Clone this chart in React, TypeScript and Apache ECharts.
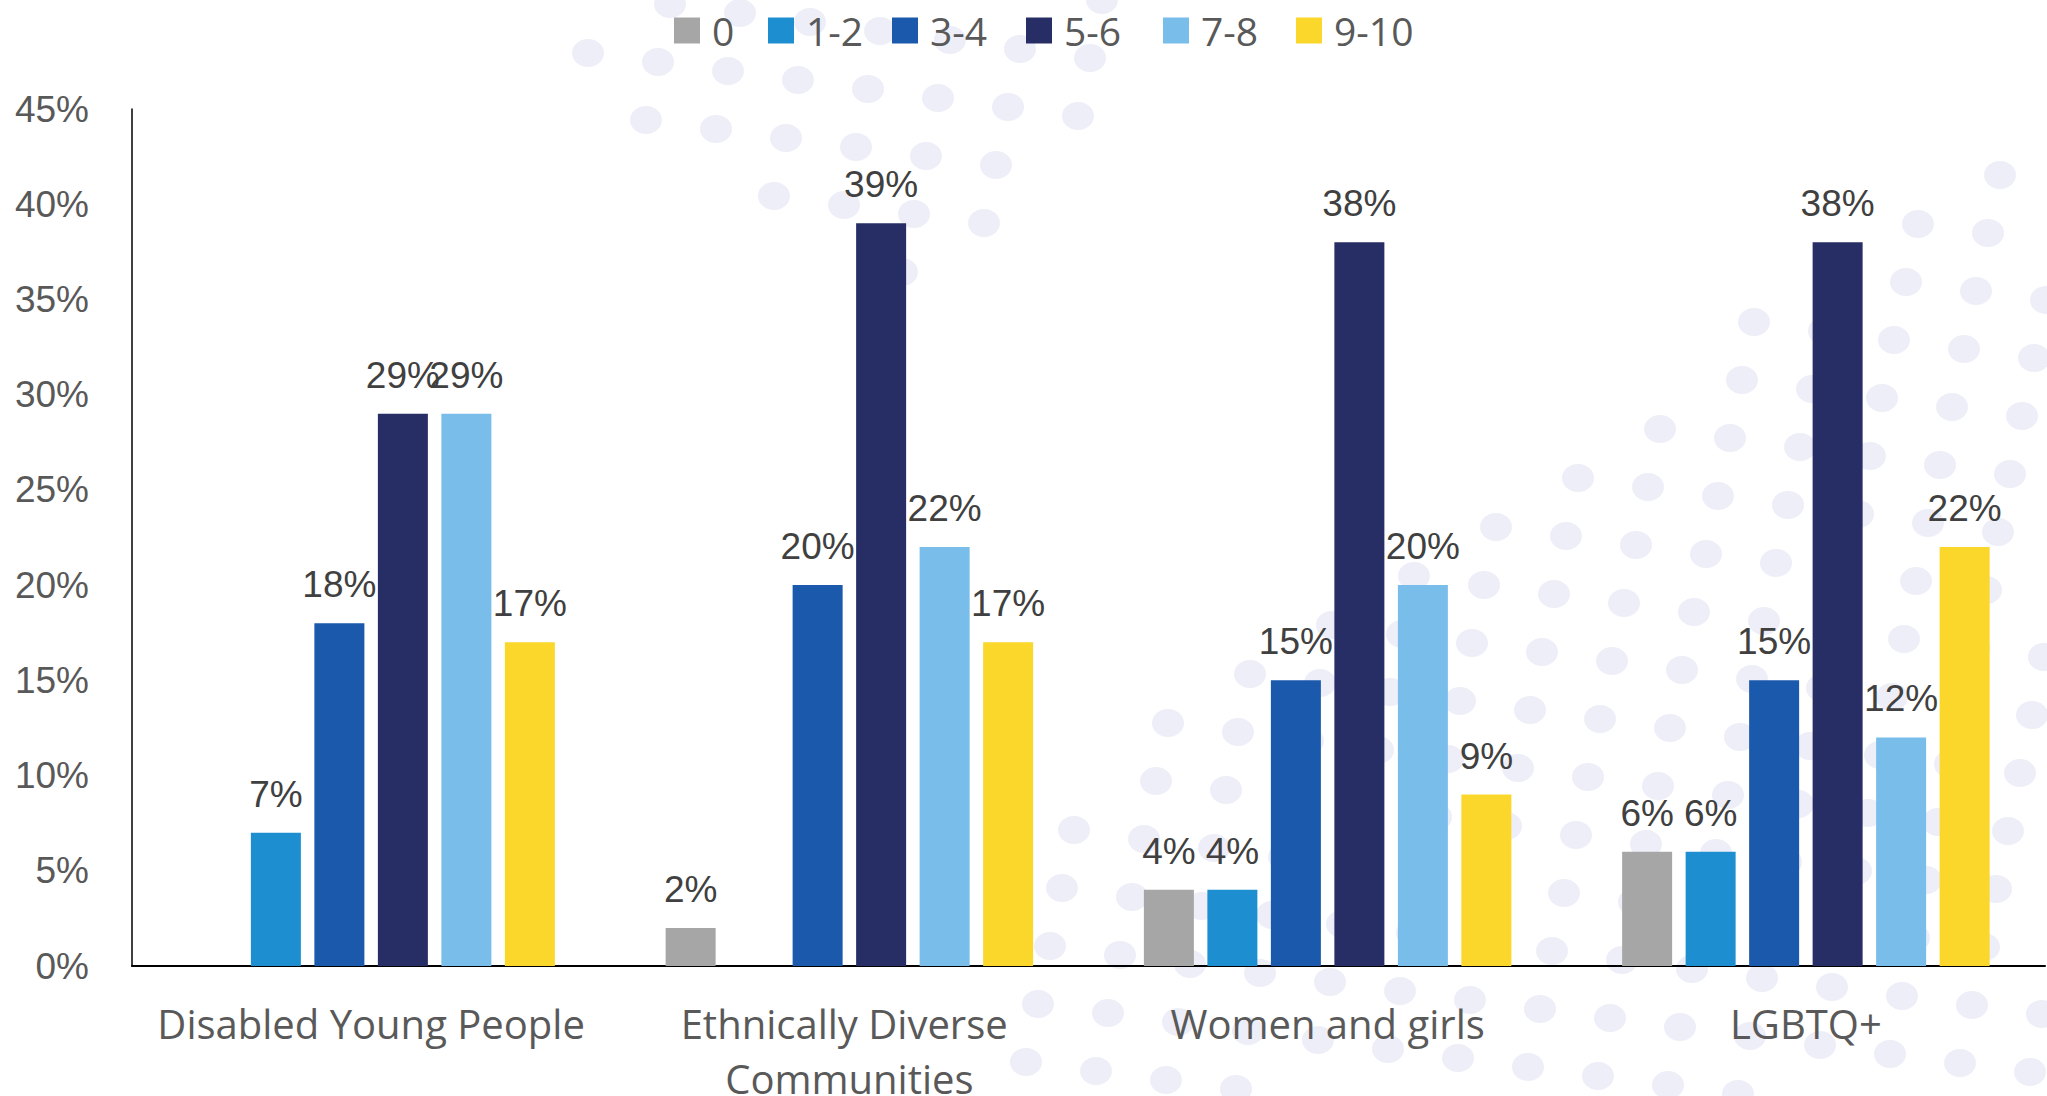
import React, { useEffect, useRef } from "react";
import * as echarts from "echarts";

const categories = ["Disabled Young People", "Ethnically Diverse Communities", "Women and girls", "LGBTQ+"];
const seriesNames = ["0", "1-2", "3-4", "5-6", "7-8", "9-10"];
const seriesColors = ["#A6A6A6", "#1D8FD0", "#1A59AB", "#262E65", "#79BDEB", "#FBD72C"];
const values0 = [null, 2, 4, 6];
const values12 = [7, null, 4, 6];
const values34 = [18, 20, 15, 15];
const values56 = [29, 39, 38, 38];
const values78 = [29, 22, 20, 12];
const values910 = [17, 17, 9, 22];
const allValues = [values0, values12, values34, values56, values78, values910];
const yTicks = { min: 0, max: 45, interval: 5 };

// legend item left positions (layout only)
const legendLefts = [674, 768, 892, 1026, 1163, 1296];

// decorative background dot regions (full-size pixel polygons)
const S = 2047 / 1568;
const dotRegions = [
  [[380, 0], [850, 0], [850, 70], [720, 230], [600, 170], [420, 60]],
  [[1450, 140], [1568, 120], [1568, 840], [760, 840], [760, 740], [850, 560], [1000, 480], [1150, 380], [1280, 300]],
].map((poly) => poly.map(([x, y]) => [x * S, y * S]));

function inside(px: number, py: number, poly: number[][]) {
  let c = false;
  for (let i = 0, j = poly.length - 1; i < poly.length; j = i++) {
    const [xi, yi] = poly[i];
    const [xj, yj] = poly[j];
    if ((yi > py) !== (yj > py) && px < ((xj - xi) * (py - yi)) / (yj - yi) + xi) c = !c;
  }
  return c;
}

function buildDots() {
  const out: any[] = [];
  const ox = 1918, oy = 224;
  for (let i = -40; i <= 40; i++) {
    for (let j = -30; j <= 30; j++) {
      const x = ox + i * 70 - j * 12;
      const y = oy + i * 9 + j * 58;
      if (x < -20 || x > 2070 || y < -20 || y > 1110) continue;
      if (!dotRegions.some((p) => inside(x, y, p))) continue;
      out.push({
        type: "ellipse",
        silent: true,
        z: -10,
        shape: { cx: x, cy: y, rx: 16, ry: 14 },
        style: { fill: "#EDEEF8" },
      });
    }
  }
  return out;
}

export default function App() {
  const ref = useRef<HTMLDivElement>(null);
  useEffect(() => {
    if (!ref.current) return;
    const chart = echarts.init(ref.current, undefined, { renderer: "svg" });
    chart.setOption({
      animation: false,
      backgroundColor: "#FFFFFF",
      graphic: { elements: buildDots() },
      legend: seriesNames.map((name, i) => ({
        data: [name],
        left: legendLefts[i],
        top: 11,
        padding: 0,
        itemWidth: 26,
        itemHeight: 26,
        icon: "rect",
        textStyle: {
          fontFamily: "Open Sans",
          fontSize: 39,
          color: "#595959",
          padding: [0, 0, 0, 7],
        },
      })),
      grid: {
        left: 132,
        right: 2,
        top: 109,
        bottom: 130,
        containLabel: false,
        outerBoundsMode: "none",
      },
      xAxis: {
        type: "category",
        data: categories,
        axisLine: { show: true, lineStyle: { color: "#000000", width: 2 } },
        axisTick: { show: false },
        axisLabel: {
          interval: 0,
          margin: 30,
          fontFamily: "Open Sans",
          fontSize: 40,
          color: "#595959",
          lineHeight: 55,
          width: 440,
          overflow: "break",
        },
      },
      yAxis: {
        type: "value",
        min: yTicks.min,
        max: yTicks.max,
        interval: yTicks.interval,
        axisLine: { show: true, lineStyle: { color: "#000000", width: 1.5 } },
        axisTick: { show: false },
        splitLine: { show: false },
        axisLabel: {
          formatter: "{value}%",
          margin: 43,
          fontFamily: "Liberation Sans",
          fontSize: 37,
          color: "#595959",
        },
      },
      series: seriesNames.map((name, k) => ({
        name,
        type: "bar",
        data: allValues[k],
        barWidth: 50,
        barGap: "27%",
        itemStyle: { color: seriesColors[k] },
        label: {
          show: true,
          position: "top",
          distance: 20,
          formatter: (p: any) => (p.value == null ? "" : p.value + "%"),
          fontFamily: "Liberation Sans",
          fontSize: 37,
          color: "#404040",
        },
      })),
    });
    return () => chart.dispose();
  }, []);
  return (
    <div
      ref={ref}
      style={{ position: "fixed", left: 0, top: 0, width: 2047, height: 1096 }}
    />
  );
}
